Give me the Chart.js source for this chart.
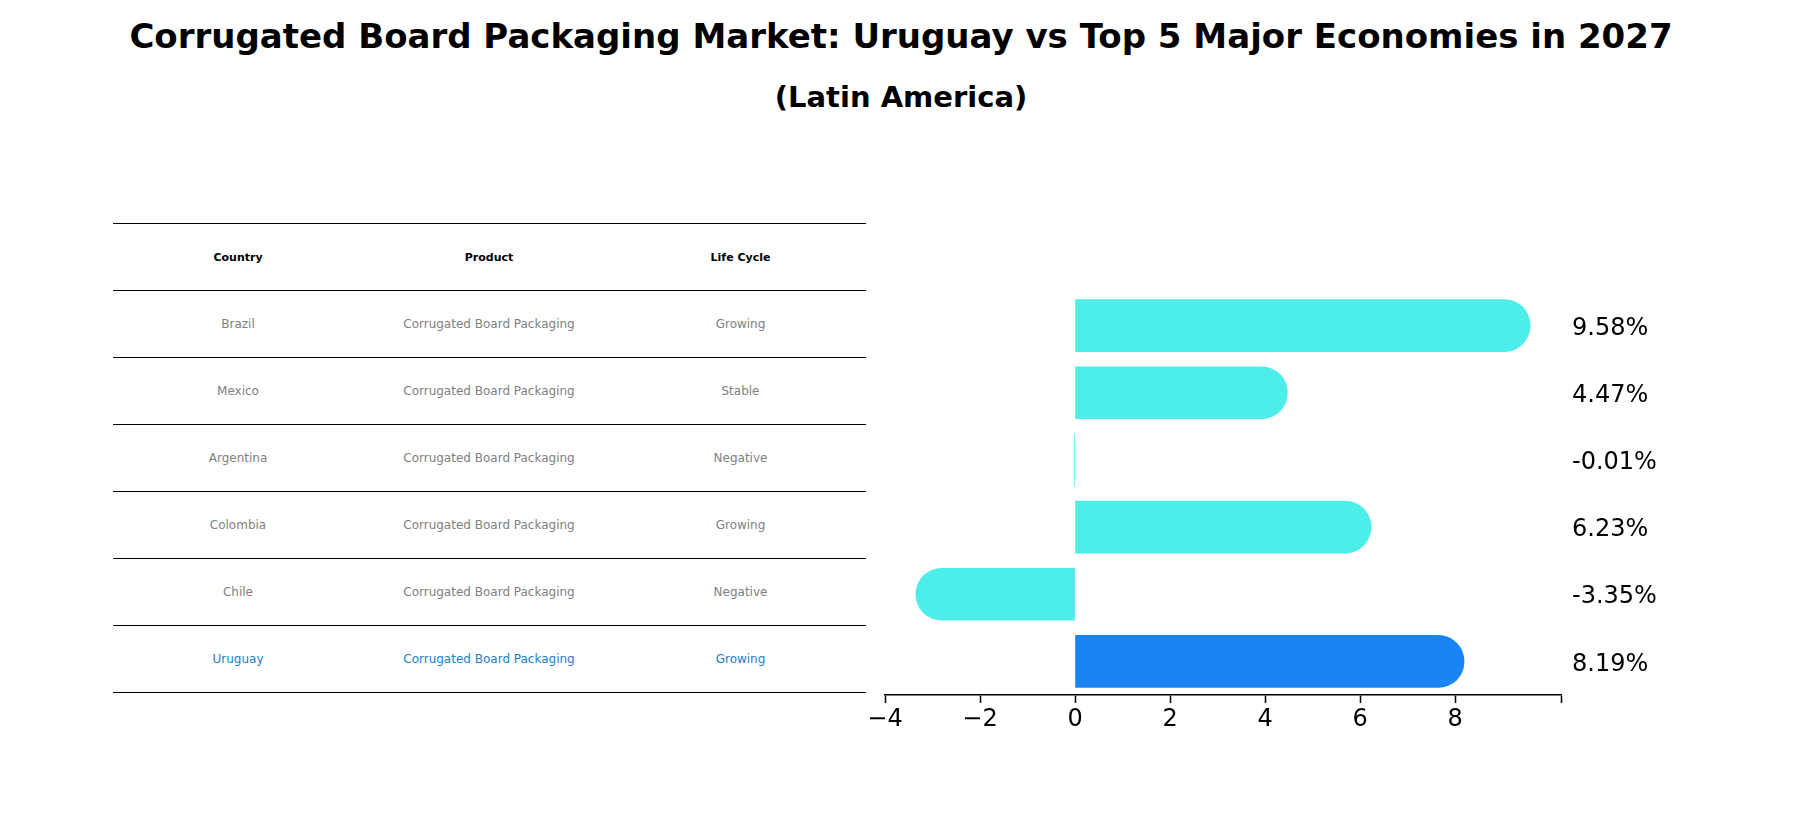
<!DOCTYPE html>
<html><head><meta charset="utf-8">
<script src="https://cdn.jsdelivr.net/npm/chart.js@4"></script>
<style>
body{margin:0;width:1802px;height:823px;background:#fff;font-family:"DejaVu Sans",sans-serif;overflow:hidden;position:relative}
#t1{position:absolute;top:16px;left:0;width:1802px;text-align:center;font-weight:bold;font-size:34px}
#t2{position:absolute;top:80px;left:0;width:1802px;text-align:center;font-weight:bold;font-size:29px}
#c{position:absolute;left:0;top:0}
table{position:absolute;left:113px;top:223px;width:753px;border-collapse:collapse;font-size:12px}
td{height:66px;border-bottom:1px solid #000;text-align:center;color:#808080;padding:0}
tr:first-child td{border-top:1px solid #000;color:#000;font-weight:bold;font-size:11px}
tr.u td{color:#1a80c8}
</style></head><body>
<div id="t1">Corrugated Board Packaging Market: Uruguay vs Top 5 Major Economies in 2027</div>
<div id="t2">(Latin America)</div>
<table id="tb"></table>
<canvas id="c" width="1802" height="823"></canvas>
<script>
const countries=["Brazil","Mexico","Argentina","Colombia","Chile","Uruguay"];
const products=["Corrugated Board Packaging","Corrugated Board Packaging","Corrugated Board Packaging","Corrugated Board Packaging","Corrugated Board Packaging","Corrugated Board Packaging"];
const lifeCycle=["Growing","Stable","Negative","Growing","Negative","Growing"];
const growth=[9.58,4.47,-0.01,6.23,-3.35,8.19];
const headers=["Country","Product","Life Cycle"];
const tb=document.getElementById('tb');
let h='<tr>'+headers.map((x,i)=>`<td style="width:${[250,252,251][i]}px">${x}</td>`).join('')+'</tr>';
countries.forEach((c,i)=>{h+=`<tr class="${c==='Uruguay'?'u':''}"><td>${c}</td><td>${products[i]}</td><td>${lifeCycle[i]}</td></tr>`;});
tb.innerHTML=h;
const labelPlugin={id:'lbl',afterDatasetsDraw(ch){const ctx=ch.ctx;const m=ch.getDatasetMeta(0);ctx.save();ctx.font='24px "DejaVu Sans"';ctx.fillStyle='#000';ctx.textBaseline='middle';ctx.textAlign='left';
m.data.forEach((b,i)=>ctx.fillText(growth[i].toFixed(2)+'%',1572,b.y+3));ctx.restore();}};
new Chart(document.getElementById('c'),{type:'bar',
data:{labels:countries,datasets:[{data:growth,
backgroundColor:countries.map(c=>c==='Uruguay'?'#1a84f5':'#4deee9'),
borderRadius:26,borderSkipped:'start',barThickness:52}]},
options:{indexAxis:'y',responsive:false,animation:false,devicePixelRatio:1,
layout:{padding:{left:885,right:241,top:292,bottom:88}},
plugins:{legend:{display:false},tooltip:{enabled:false}},
scales:{y:{display:false},
x:{min:-4,max:10.23,afterFit(s){s.height=40},
grid:{drawOnChartArea:false,drawTicks:true,tickLength:8,tickColor:'#000',tickWidth:1.5},
border:{color:'#000',width:1.5},
ticks:{stepSize:2,color:'#000',font:{size:24,family:'DejaVu Sans'},padding:2,
callback:v=>Number.isInteger(v)&&v%2===0?String(v).replace('-','\u2212'):''}}}},
plugins:[labelPlugin]});
</script></body></html>
